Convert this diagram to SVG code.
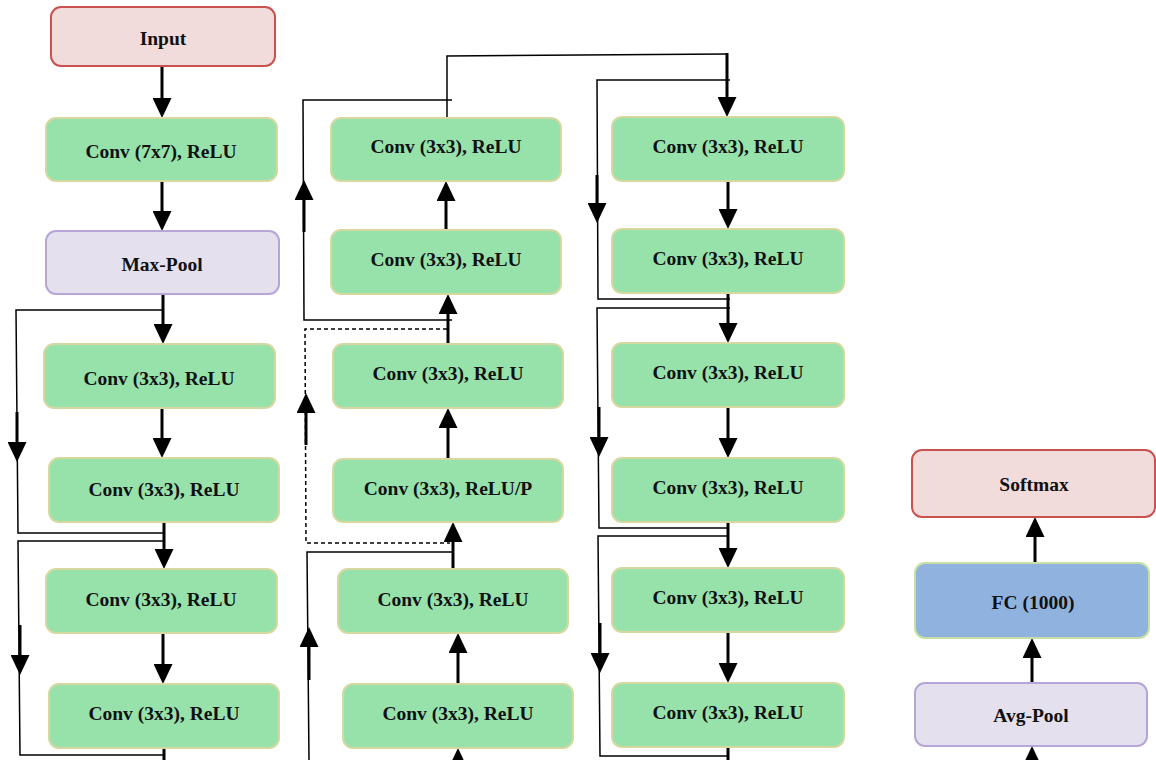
<svg xmlns="http://www.w3.org/2000/svg" width="1156" height="760" viewBox="0 0 1156 760">
<style>
.box{stroke-width:2}
.conv{fill:#97E1AB;stroke:#D5D9A0}
.io{fill:#F2DCDB;stroke:#C9524E}
.pool{fill:#E5E0ED;stroke:#B6A5D6}
.fc{fill:#8FB3DE;stroke:#C5E0A2}
.lbl{font-family:"Liberation Serif","Times New Roman",serif;font-weight:bold;font-size:19.5px;fill:#111;text-anchor:middle}
.main{stroke:#000;stroke-width:3;fill:none;marker-end:url(#ah)}
.skip{stroke:#000;stroke-width:1.5;fill:none}
.dash{stroke:#000;stroke-width:1.5;fill:none;stroke-dasharray:4 3}
.plain{stroke:#000;stroke-width:3;fill:none}
</style>
<defs>
<marker id="ah" markerUnits="userSpaceOnUse" viewBox="0 0 20 19" markerWidth="20" markerHeight="19" refX="12" refY="9.5" orient="auto">
<path d="M0,0 L20,9.5 L0,19 Z" fill="#000"/>
</marker>
</defs>
<rect width="1156" height="760" fill="#fff"/>

<g id="connectors">
<!-- column 1 main -->
<line class="main" x1="162" y1="66" x2="162" y2="110"/>
<line class="main" x1="162" y1="181" x2="162" y2="223"/>
<line class="main" x1="163" y1="294" x2="163" y2="336"/>
<line class="main" x1="162" y1="408" x2="162" y2="450"/>
<line class="main" x1="164" y1="522" x2="164" y2="561"/>
<line class="main" x1="163" y1="633" x2="163" y2="676"/>
<line class="plain" x1="164" y1="748" x2="164" y2="760"/>
<!-- column 1 skips -->
<polyline class="skip" points="162,310 16,310 18,533 163,533"/>
<line class="main" x1="17" y1="412" x2="17" y2="454"/>
<polyline class="skip" points="163,541 18,541 20,755 164,755"/>
<line class="main" x1="20" y1="625" x2="20" y2="667"/>

<!-- column 2 main (upward) -->
<line class="main" x1="448" y1="459" x2="448" y2="416"/>
<line class="main" x1="448" y1="344" x2="448" y2="302"/>
<line class="main" x1="446" y1="230" x2="446" y2="189"/>
<line class="main" x1="453" y1="569" x2="453" y2="530"/>
<line class="main" x1="458" y1="684" x2="458" y2="641"/>
<line class="main" x1="458" y1="770" x2="458" y2="756"/>
<!-- column 2 skips -->
<polyline class="skip" points="447,118 447,56 727,54"/>
<line class="main" x1="727" y1="53" x2="727" y2="109"/>
<polyline class="skip" points="452,100 303,100 304,320 452,320"/>
<line class="main" x1="304" y1="232" x2="304" y2="188"/>
<polyline class="dash" points="447,329 305,329 306,543 450,543"/>
<line class="main" x1="306" y1="445" x2="306" y2="401"/>
<polyline class="skip" points="453,552 307,552 309,760"/>
<line class="main" x1="309" y1="680" x2="309" y2="635"/>

<!-- column 3 main -->
<line class="main" x1="728" y1="181" x2="728" y2="221"/>
<line class="main" x1="728" y1="293" x2="728" y2="335"/>
<line class="main" x1="728" y1="407" x2="728" y2="450"/>
<line class="main" x1="728" y1="522" x2="728" y2="560"/>
<line class="main" x1="728" y1="632" x2="728" y2="675"/>
<line class="plain" x1="728" y1="747" x2="728" y2="760"/>
<!-- column 3 skips -->
<polyline class="skip" points="730,80 597,80 598,299 730,299"/>
<line class="main" x1="597" y1="175" x2="597" y2="215"/>
<polyline class="skip" points="730,308 597,308 599,528 728,528"/>
<line class="main" x1="599" y1="407" x2="599" y2="449"/>
<polyline class="skip" points="728,536 598,536 600,756 728,756"/>
<line class="main" x1="600" y1="623" x2="600" y2="665"/>

<!-- column 4 -->
<line class="main" x1="1035" y1="563" x2="1035" y2="525"/>
<line class="main" x1="1032" y1="683" x2="1032" y2="646"/>
<line class="main" x1="1032" y1="770" x2="1032" y2="754"/>
</g>

<g id="input"><rect class="box io" x="51" y="7" width="224" height="59" rx="10"/><text class="lbl" x="163" y="45">Input</text></g>
<g id="c1_conv7"><rect class="box conv" x="46" y="118" width="231" height="63" rx="10"/><text class="lbl" x="161" y="158">Conv (7x7), ReLU</text></g>
<g id="c1_maxpool"><rect class="box pool" x="46" y="231" width="233" height="63" rx="10"/><text class="lbl" x="162" y="271">Max-Pool</text></g>
<g id="c1_conv3"><rect class="box conv" x="44" y="344" width="231" height="64" rx="10"/><text class="lbl" x="159" y="385">Conv (3x3), ReLU</text></g>
<g id="c1_conv4"><rect class="box conv" x="49" y="458" width="230" height="64" rx="10"/><text class="lbl" x="164" y="496">Conv (3x3), ReLU</text></g>
<g id="c1_conv5"><rect class="box conv" x="46" y="569" width="231" height="64" rx="10"/><text class="lbl" x="161" y="606">Conv (3x3), ReLU</text></g>
<g id="c1_conv6"><rect class="box conv" x="49" y="684" width="230" height="64" rx="10"/><text class="lbl" x="164" y="720">Conv (3x3), ReLU</text></g>

<g id="c2_conv1"><rect class="box conv" x="331" y="118" width="230" height="63" rx="10"/><text class="lbl" x="446" y="153">Conv (3x3), ReLU</text></g>
<g id="c2_conv2"><rect class="box conv" x="331" y="230" width="230" height="64" rx="10"/><text class="lbl" x="446" y="266">Conv (3x3), ReLU</text></g>
<g id="c2_conv3"><rect class="box conv" x="333" y="344" width="230" height="64" rx="10"/><text class="lbl" x="448" y="380">Conv (3x3), ReLU</text></g>
<g id="c2_convp"><rect class="box conv" x="333" y="459" width="230" height="63" rx="10"/><text class="lbl" x="448" y="495">Conv (3x3), ReLU/P</text></g>
<g id="c2_conv5"><rect class="box conv" x="338" y="569" width="230" height="64" rx="10"/><text class="lbl" x="453" y="606">Conv (3x3), ReLU</text></g>
<g id="c2_conv6"><rect class="box conv" x="343" y="684" width="230" height="64" rx="10"/><text class="lbl" x="458" y="720">Conv (3x3), ReLU</text></g>

<g id="c3_conv1"><rect class="box conv" x="612" y="117" width="232" height="64" rx="10"/><text class="lbl" x="728" y="153">Conv (3x3), ReLU</text></g>
<g id="c3_conv2"><rect class="box conv" x="612" y="229" width="232" height="64" rx="10"/><text class="lbl" x="728" y="265">Conv (3x3), ReLU</text></g>
<g id="c3_conv3"><rect class="box conv" x="612" y="343" width="232" height="64" rx="10"/><text class="lbl" x="728" y="379">Conv (3x3), ReLU</text></g>
<g id="c3_conv4"><rect class="box conv" x="612" y="458" width="232" height="64" rx="10"/><text class="lbl" x="728" y="494">Conv (3x3), ReLU</text></g>
<g id="c3_conv5"><rect class="box conv" x="612" y="568" width="232" height="64" rx="10"/><text class="lbl" x="728" y="604">Conv (3x3), ReLU</text></g>
<g id="c3_conv6"><rect class="box conv" x="612" y="683" width="232" height="64" rx="10"/><text class="lbl" x="728" y="719">Conv (3x3), ReLU</text></g>

<g id="softmax"><rect class="box io" x="912" y="450" width="243" height="67" rx="10"/><text class="lbl" x="1034" y="491">Softmax</text></g>
<g id="fc"><rect class="box fc" x="915" y="563" width="234" height="75" rx="10"/><text class="lbl" x="1033" y="609">FC (1000)</text></g>
<g id="avgpool"><rect class="box pool" x="915" y="683" width="232" height="63" rx="10"/><text class="lbl" x="1031" y="722">Avg-Pool</text></g>
</svg>
